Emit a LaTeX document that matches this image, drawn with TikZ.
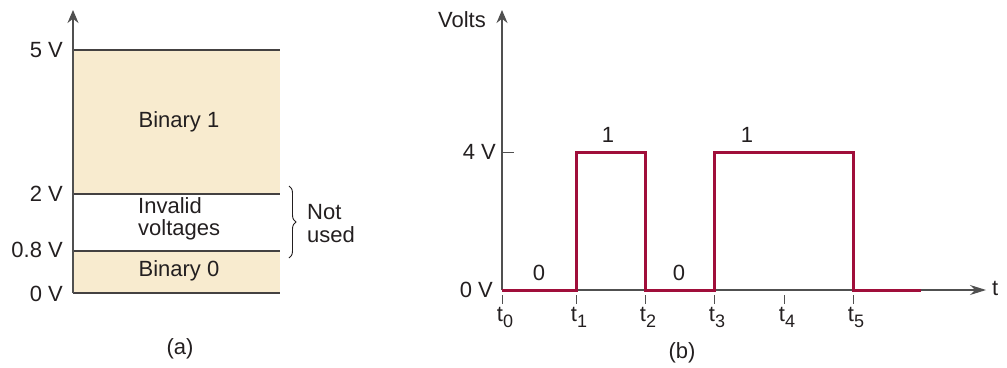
\documentclass[tikz,border=0pt]{standalone}
\usepackage{fontspec}
\setmainfont{Liberation Sans}
\usetikzlibrary{arrows.meta,decorations.pathreplacing}
\definecolor{beige}{RGB}{248,235,207}
\definecolor{wave}{RGB}{160,14,58}
\definecolor{ink}{RGB}{35,31,32}
\definecolor{axisc}{RGB}{80,80,80}
\newcommand{\tsub}[1]{t\raisebox{-0.5ex}{\fontsize{18}{18}\selectfont #1}}
\begin{document}
\begin{tikzpicture}[x=1pt,y=-1pt,
  every node/.style={text=ink,font=\fontsize{22}{25}\selectfont,inner sep=0pt},
  lvl/.style={draw=ink!85,line width=1.2pt},
  axis/.style={draw=axisc,line width=1.1pt},
  vaxis/.style={axis,-{Stealth[length=13pt,width=11pt]}},
  haxis/.style={axis,-{Stealth[length=16pt,width=10pt]}},
  tick/.style={draw=axisc,line width=1pt},
  sig/.style={draw=wave,line width=3pt,line join=miter},
  lbl/.style={anchor=east}]
\useasboundingbox (0,0) rectangle (1007,367);
% ---------- panel (a) ----------
\coordinate (a0) at (73,293);
\coordinate (atop) at (73,10);
\fill[beige] (73,50) rectangle (280,194);
\fill[beige] (73,251) rectangle (280,293);
\draw[lvl] (73,50) -- (280,50);
\draw[lvl] (73,194) -- (280,194);
\draw[lvl] (73,251) -- (280,251);
\draw[lvl] (73,293) -- (280,293);
\draw[vaxis] (a0) -- (atop);
\node[lbl] (l5) at (63,50) {5 V};
\node[lbl] (l2) at (63,194) {2 V};
\node[lbl] (l08) at (63,250) {0.8 V};
\node[lbl] (l0) at (63,294) {0 V};
\node (b1) at (179,122) {Binary 1};
\node[align=left,anchor=west,font=\fontsize{22}{22}\selectfont] (inv) at (138,219) {Invalid\\voltages};
\node (b0) at (179,271) {Binary 0};
\coordinate (brt) at (289,186);
\coordinate (brb) at (289,258);
\draw[draw=ink,line width=0.9pt,decorate,decoration={brace,amplitude=7pt}] (brt) -- (brb);
\node[align=left,anchor=west,font=\fontsize{22}{23}\selectfont] (nu) at (307,224) {Not\\used};
\node (capa) at (180,349) {(a)};
% ---------- panel (b) ----------
\coordinate (o) at (502,290);
\coordinate (vtop) at (502,10);
\coordinate (tend) at (986,290);
\draw[vaxis] (o) -- (vtop);
\draw[haxis] (o) -- (tend);
\node[anchor=east] (volts) at (486,20) {Volts};
\node[anchor=west] (tt) at (992,288) {t};
\coordinate (v4) at (502,152);
\coordinate (v4t) at (514,152);
\draw[tick] (v4) -- (v4t);
\node[lbl] (l4v) at (496,152) {4 V};
\node[lbl] (l0v) at (493,290) {0 V};
\foreach \x/\i in {502/0,576/1,645/2,714/3,784/4,853/5}{
  \draw[tick] (\x,295) -- (\x,304);
  \node[anchor=north] (t\i) at (\x+3,307) {\tsub{\i}};
}
\draw[sig] (502,290) -- (576,290) -- (576,152) -- (645,152) -- (645,290)
  -- (714,290) -- (714,152) -- (853,152) -- (853,290) -- (921,290);
\node (z1) at (539,273) {0};
\node (z2) at (679,273) {0};
\node (o1) at (608,135) {1};
\node (o2) at (747,135) {1};
\node (capb) at (682,353) {(b)};
\end{tikzpicture}
\end{document}
